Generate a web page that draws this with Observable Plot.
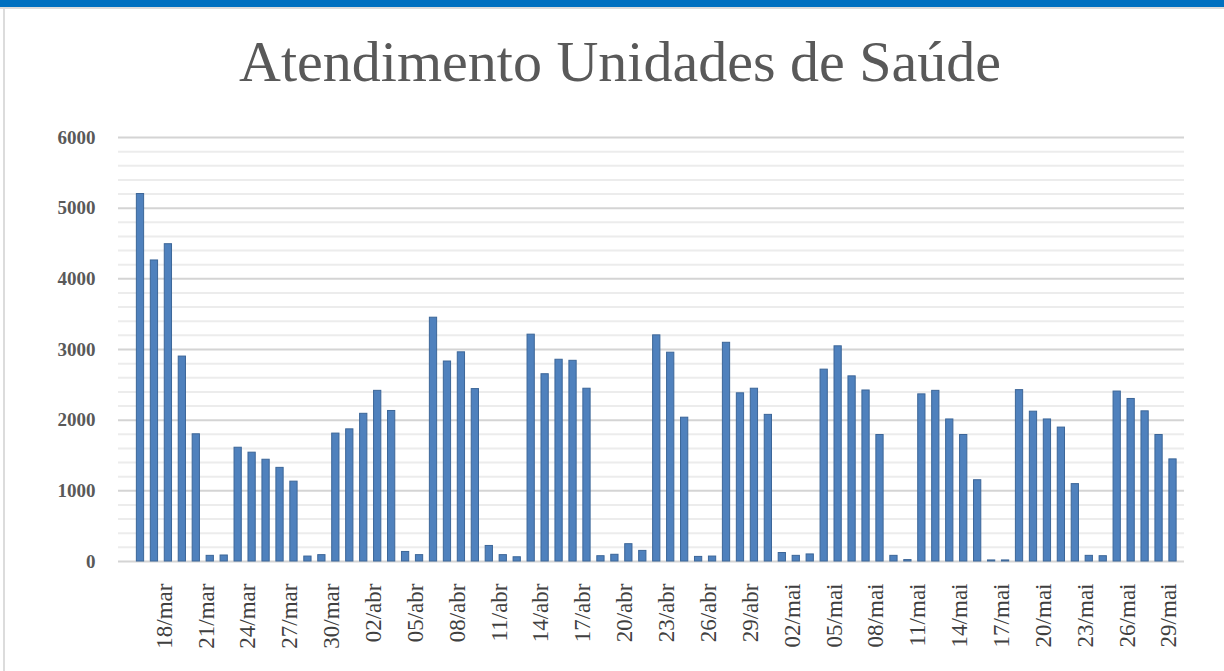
<!DOCTYPE html>
<html><head><meta charset="utf-8">
<script src="https://cdn.jsdelivr.net/npm/d3@7"></script>
<script src="https://cdn.jsdelivr.net/npm/@observablehq/plot@0.6"></script>
<style>
body{margin:0;background:#fff;width:1224px;height:671px;overflow:hidden;position:relative;font-family:"Liberation Serif",serif;}
#topbar{position:absolute;left:0;top:0;width:1224px;height:7px;background:#0070c0;}
#topline{position:absolute;left:0;top:7px;width:1224px;height:2px;background:#dcdcdc;}
#leftline{position:absolute;left:3px;top:9px;width:2px;height:662px;background:#dcdcdc;}
#title{position:absolute;top:33px;left:0;width:1240px;text-align:center;font-size:58px;line-height:58px;color:#595959;font-family:"Liberation Serif",serif;}
#chart{position:absolute;left:0;top:110px;}
</style>
</head><body>
<div id="topbar"></div><div id="topline"></div><div id="leftline"></div>
<div id="title">Atendimento Unidades de Saúde</div>
<div id="chart"></div>
<script>
const dates = [
"16/mar","17/mar","18/mar","19/mar","20/mar","21/mar","22/mar","23/mar","24/mar","25/mar","26/mar","27/mar","28/mar","29/mar","30/mar","31/mar",
"01/abr","02/abr","03/abr","04/abr","05/abr","06/abr","07/abr","08/abr","09/abr","10/abr","11/abr","12/abr","13/abr","14/abr","15/abr","16/abr","17/abr","18/abr","19/abr","20/abr","21/abr","22/abr","23/abr","24/abr","25/abr","26/abr","27/abr","28/abr","29/abr","30/abr",
"01/mai","02/mai","03/mai","04/mai","05/mai","06/mai","07/mai","08/mai","09/mai","10/mai","11/mai","12/mai","13/mai","14/mai","15/mai","16/mai","17/mai","18/mai","19/mai","20/mai","21/mai","22/mai","23/mai","24/mai","25/mai","26/mai","27/mai","28/mai","29/mai"
];
const values = [
5200,4260,4490,2900,1800,80,85,1610,1540,1440,1325,1130,70,90,1810,1870,
2090,2415,2130,135,90,3450,2830,2960,2440,220,90,60,3210,2650,2855,2840,2445,75,95,245,150,3200,2955,2035,65,70,3095,2380,2445,2075,
120,80,100,2715,3045,2620,2420,1790,80,20,2365,2415,2010,1790,1150,15,15,2425,2120,2010,1895,1095,80,75,2405,2300,2125,1790,1445
];
const xTicks = ["18/mar","21/mar","24/mar","27/mar","30/mar","02/abr","05/abr","08/abr","11/abr","14/abr","17/abr","20/abr","23/abr","26/abr","29/abr","02/mai","05/mai","08/mai","11/mai","14/mai","17/mai","20/mai","23/mai","26/mai","29/mai"];
const yTicks = [0,1000,2000,3000,4000,5000,6000];
const minorTicks = [200,400,600,800,1200,1400,1600,1800,2200,2400,2600,2800,3200,3400,3600,3800,4200,4400,4600,4800,5200,5400,5600,5800];

const data = dates.map((d,i)=>({date:d, value:values[i]}));

const chart = Plot.plot({
  width:1224, height:561,
  marginLeft:118, marginRight:40, marginTop:27, marginBottom:110,
  style:{fontFamily:"Liberation Serif, serif", background:"transparent"},
  x:{domain:dates, paddingInner:0.48, paddingOuter:0.94, align:0.7, label:null},
  y:{domain:[0,6000], label:null},
  marks:[
    Plot.gridY(minorTicks,{stroke:"#ececec", strokeOpacity:1, strokeWidth:2}),
    Plot.gridY(yTicks,{stroke:"#d4d4d4", strokeOpacity:1, strokeWidth:2}),
    Plot.barY(data,{x:"date", y:"value", fill:"#4f81bd", stroke:"#3c6698", strokeWidth:1}),
    Plot.axisY(yTicks,{tickSize:0, tickPadding:23, fontSize:19, fontWeight:"bold", color:"#595959", label:null, tickFormat:d=>String(d)}),
    Plot.axisX(xTicks,{tickSize:0, tickPadding:22, tickRotate:-90, fontSize:23, color:"#404040", label:null, dx:-4})
  ]
});
document.getElementById("chart").appendChild(chart);
</script>
</body></html>
